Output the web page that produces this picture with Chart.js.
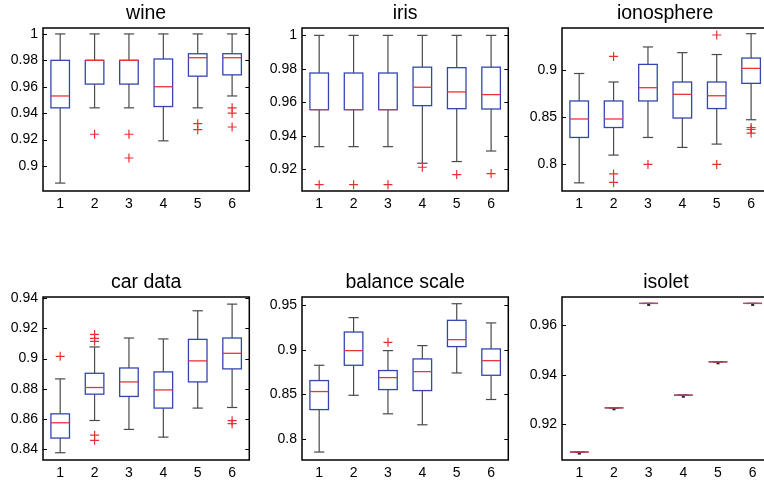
<!DOCTYPE html>
<html>
<head>
<meta charset="utf-8">
<script src="https://cdn.jsdelivr.net/npm/chart.js@4/dist/chart.umd.min.js"></script>
<style>
  html, body { margin:0; padding:0; background:#fff; width:764px; height:482px; overflow:hidden; position:relative; }
  canvas { position:absolute; }
</style>
</head>
<body>
<canvas id="c0"></canvas>
<canvas id="c1"></canvas>
<canvas id="c2"></canvas>
<canvas id="c3"></canvas>
<canvas id="c4"></canvas>
<canvas id="c5"></canvas>
<script>
// ---- data (each box: [lower whisker, Q1, median, Q3, upper whisker]) ----
const categories = ['1','2','3','4','5','6'];
const titles = ['wine','iris','ionosphere','car data','balance scale','isolet'];

const wineBoxes = [
  [0.887, 0.944, 0.953, 0.980, 1.0],
  [0.944, 0.962, 0.980, 0.980, 1.0],
  [0.944, 0.962, 0.980, 0.980, 1.0],
  [0.919, 0.945, 0.960, 0.981, 1.0],
  [0.944, 0.968, 0.982, 0.985, 1.0],
  [0.953, 0.969, 0.982, 0.985, 1.0]
];
const wineOutliers = [[2,0.924],[3,0.924],[3,0.906],[5,0.932],[5,0.9275],[6,0.944],[6,0.940],[6,0.9295]];
const wineTicks = [0.9, 0.92, 0.94, 0.96, 0.98, 1];

const irisBoxes = [
  [0.9335, 0.9556, 0.9556, 0.9775, 1.0],
  [0.9335, 0.9556, 0.9556, 0.9775, 1.0],
  [0.9335, 0.9556, 0.9556, 0.9775, 1.0],
  [0.9236, 0.958, 0.969, 0.981, 1.0],
  [0.9246, 0.9562, 0.9662, 0.9807, 1.0],
  [0.9309, 0.956, 0.9646, 0.981, 1.0]
];
const irisOutliers = [[1,0.9108],[2,0.9108],[3,0.9108],[4,0.9212],[5,0.9168],[6,0.9174]];
const irisTicks = [0.92, 0.94, 0.96, 0.98, 1];

const ionoBoxes = [
  [0.7806, 0.8285, 0.848, 0.867, 0.896],
  [0.8099, 0.839, 0.848, 0.867, 0.887],
  [0.8285, 0.867, 0.881, 0.9056, 0.924],
  [0.818, 0.849, 0.874, 0.887, 0.918],
  [0.8215, 0.859, 0.8725, 0.887, 0.916],
  [0.8472, 0.8856, 0.9014, 0.9123, 0.938]
];
const ionoOutliers = [[2,0.914],[2,0.790],[2,0.781],[3,0.800],[5,0.9366],[5,0.800],[6,0.839],[6,0.837],[6,0.833]];
const ionoTicks = [0.8, 0.85, 0.9];

const carBoxes = [
  [0.8378, 0.8475, 0.8576, 0.8635, 0.8866],
  [0.8591, 0.8765, 0.8809, 0.8903, 0.9077],
  [0.8532, 0.875, 0.8846, 0.8938, 0.9136],
  [0.8481, 0.8673, 0.8793, 0.8912, 0.913],
  [0.8673, 0.8846, 0.8985, 0.9127, 0.9316],
  [0.8677, 0.8932, 0.9035, 0.9136, 0.936]
];
const carOutliers = [[1,0.9015],[2,0.916],[2,0.9134],[2,0.9114],[2,0.8494],[2,0.846],[6,0.859],[6,0.857]];
const carTicks = [0.84, 0.86, 0.88, 0.9, 0.92, 0.94];

const balanceBoxes = [
  [0.7855, 0.833, 0.8532, 0.8655, 0.8826],
  [0.849, 0.8826, 0.899, 0.9198, 0.9359],
  [0.8283, 0.8554, 0.8688, 0.8767, 0.899],
  [0.816, 0.8543, 0.8755, 0.8897, 0.9046],
  [0.874, 0.9035, 0.9113, 0.9329, 0.9515],
  [0.8443, 0.8714, 0.8878, 0.9009, 0.930]
];
const balanceOutliers = [[3,0.9083]];
const balanceTicks = [0.8, 0.85, 0.9, 0.95];

const isoletBoxes = [
  [0.9087, 0.9087, 0.9087, 0.9087, 0.9087],
  [0.9266, 0.9266, 0.9266, 0.9266, 0.9266],
  [0.9688, 0.9688, 0.9688, 0.9688, 0.9688],
  [0.9317, 0.9317, 0.9317, 0.9317, 0.9317],
  [0.9452, 0.9452, 0.9452, 0.9452, 0.9452],
  [0.9688, 0.9688, 0.9688, 0.9688, 0.9688]
];
const isoletOutliers = [];
const isoletTicks = [0.92, 0.94, 0.96];

// y-axis ranges
const yRanges = [[0.881, 1.0045],[0.907, 1.0044],[0.772, 0.944],[0.833, 0.9407],[0.7766, 0.959],[0.9055, 0.9714]];

// ---- layout ----
const panels = [
  {boxes: wineBoxes, out: wineOutliers, ticks: wineTicks, left: 0, top: 0, yw: 43},
  {boxes: irisBoxes, out: irisOutliers, ticks: irisTicks, left: 255, top: 0, yw: 47},
  {boxes: ionoBoxes, out: ionoOutliers, ticks: ionoTicks, left: 515, top: 0, yw: 47},
  {boxes: carBoxes, out: carOutliers, ticks: carTicks, left: 0, top: 269, yw: 43},
  {boxes: balanceBoxes, out: balanceOutliers, ticks: balanceTicks, left: 255, top: 269, yw: 47},
  {boxes: isoletBoxes, out: isoletOutliers, ticks: isoletTicks, left: 515, top: 269, yw: 47}
];
const AREA_W = 208, AREA_H = 163, TITLE_H = 28, XAX_H = 30, PAD_R = 4;
const FONT = "'Liberation Sans', Arial, Helvetica, sans-serif";

const boxPlugin = {
  id: 'boxes',
  beforeDatasetsDraw(chart, args, opts) {
    const ctx = chart.ctx, xs = chart.scales.x, ys = chart.scales.y;
    const Y = v => ys.getPixelForValue(v);
    const line = (x1, y1, x2, y2) => { ctx.beginPath(); ctx.moveTo(x1, y1); ctx.lineTo(x2, y2); ctx.stroke(); };
    ctx.save();
    opts.boxes.forEach((b, i) => {
      const [lo, q1, med, q3, hi] = b;
      const cx = xs.getPixelForValue(i + 1);
      const hw = xs.getPixelForValue(i + 1.27) - cx;
      const cw = xs.getPixelForValue(i + 1.15) - cx;
      ctx.strokeStyle = '#4a4a4a'; ctx.lineWidth = 1.2;
      line(cx, Y(q3), cx, Y(hi));
      line(cx, Y(q1), cx, Y(lo));
      line(cx - cw, Y(hi), cx + cw, Y(hi));
      line(cx - cw, Y(lo), cx + cw, Y(lo));
      if (hi === lo) {
        ctx.fillStyle = '#222';
        ctx.fillRect(cx - 1.5, Y(lo) + 0.5, 3, 2);
      }
      ctx.fillStyle = '#fff';
      ctx.strokeStyle = '#3346b0'; ctx.lineWidth = 1.3;
      ctx.fillRect(cx - hw, Y(q3), 2 * hw, Y(q1) - Y(q3));
      ctx.strokeRect(cx - hw, Y(q3), 2 * hw, Y(q1) - Y(q3));
      ctx.strokeStyle = '#e8343a'; ctx.lineWidth = 1.3;
      line(cx - hw, Y(med), cx + hw, Y(med));
    });
    ctx.restore();
  },
  afterDraw(chart) {
    const ctx = chart.ctx, a = chart.chartArea, ys = chart.scales.y;
    ctx.save();
    ctx.strokeStyle = '#000'; ctx.lineWidth = 1.5;
    ctx.strokeRect(a.left, a.top, a.right - a.left, a.bottom - a.top);
    ctx.lineWidth = 1;
    ys.ticks.forEach(t => {
      const py = Math.round(ys.getPixelForValue(t.value)) + 0.5;
      ctx.beginPath();
      ctx.moveTo(a.left, py); ctx.lineTo(a.left + 4, py);
      ctx.moveTo(a.right, py); ctx.lineTo(a.right - 4, py);
      ctx.stroke();
    });
    ctx.restore();
  }
};

panels.forEach((p, k) => {
  const cv = document.getElementById('c' + k);
  const w = p.yw + AREA_W + PAD_R, h = TITLE_H + AREA_H + XAX_H;
  cv.width = w; cv.height = h;
  cv.style.left = p.left + 'px'; cv.style.top = p.top + 'px';
  cv.style.width = w + 'px'; cv.style.height = h + 'px';
  new Chart(cv, {
    type: 'scatter',
    data: {
      datasets: [{
        data: p.out.map(([c, v]) => ({x: c, y: v})),
        pointStyle: 'cross', pointRadius: 4.5, pointHoverRadius: 4.5,
        borderColor: '#e53030', backgroundColor: '#e53030', pointBorderWidth: 1.2
      }]
    },
    options: {
      responsive: false, animation: false, devicePixelRatio: 1,
      layout: {padding: {left: 0, right: PAD_R, top: 0, bottom: 0}},
      plugins: {
        legend: {display: false}, tooltip: {enabled: false},
        title: {display: true, text: titles[k], color: '#000', fullSize: false,
          font: {family: FONT, size: 19.5, weight: 'normal', lineHeight: '23px'},
          padding: {top: 2, bottom: 3}},
        boxes: {boxes: p.boxes}
      },
      scales: {
        x: {
          type: 'linear', min: 0.5, max: 6.5,
          afterBuildTicks: ax => { ax.ticks = categories.map((c, i) => ({value: i + 1})); },
          ticks: {callback: (v, i) => categories[i], color: '#000', font: {family: FONT, size: 14}, padding: 5, autoSkip: false, maxRotation: 0},
          grid: {display: false, drawTicks: false}, border: {display: false},
          afterFit: s => { s.height = XAX_H; }
        },
        y: {
          type: 'linear', min: yRanges[k][0], max: yRanges[k][1],
          afterBuildTicks: ax => { ax.ticks = p.ticks.map(v => ({value: v})); },
          ticks: {callback: v => String(v), color: '#000', font: {family: FONT, size: 14}, padding: 5, autoSkip: false},
          grid: {display: false, drawTicks: false}, border: {display: false},
          afterFit: s => { s.width = p.yw; }
        }
      }
    },
    plugins: [boxPlugin]
  });
});
</script>
</body>
</html>
